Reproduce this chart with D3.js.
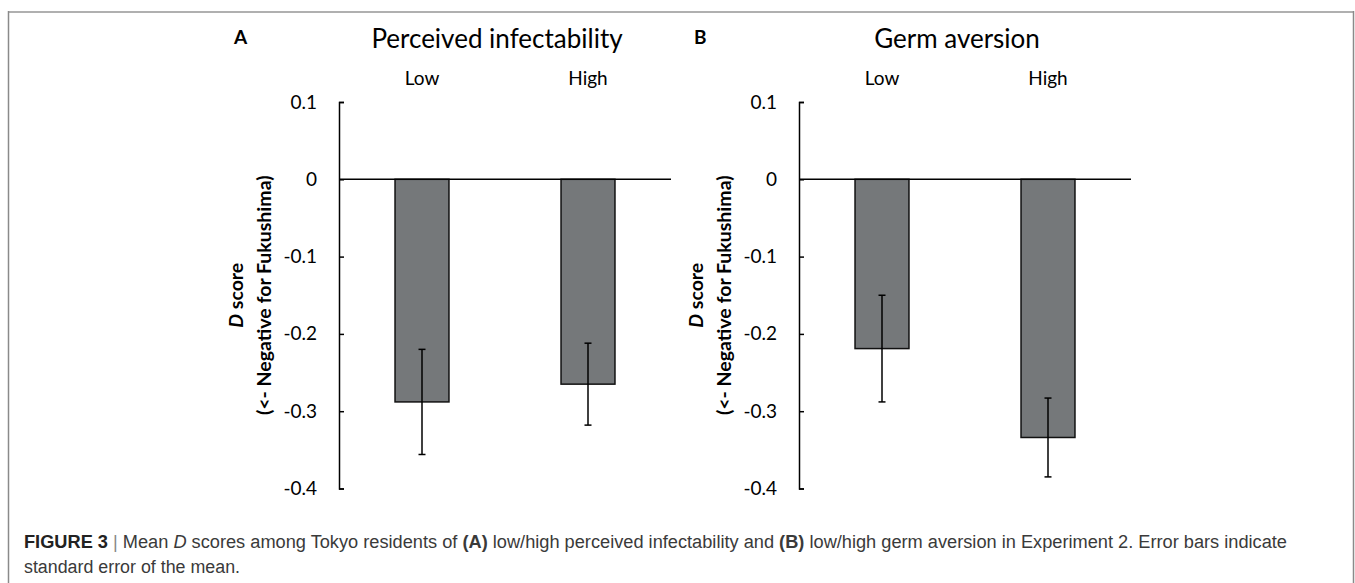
<!DOCTYPE html>
<html>
<head>
<meta charset="utf-8">
<script src="https://cdn.jsdelivr.net/npm/d3@7"></script>
<style>
  body { margin: 0; background: #fff; }
  svg { display: block; }
</style>
</head>
<body>
<svg id="fig" width="1355" height="583"></svg>
<script>
// values
const categories = ["Low", "High"];
const infectMeans = [-0.288, -0.265];
const infectSE = [0.068, 0.053];
const germMeans = [-0.219, -0.334];
const germSE = [0.069, 0.051];
const yTicks = [0.1, 0, -0.1, -0.2, -0.3, -0.4];
const panelTitles = ["Perceived infectability", "Germ aversion"];
const panelLetters = ["A", "B"];

const svg = d3.select("#fig");
const font = "Lato, 'Open Sans', sans-serif";

// frame around the figure
svg.append("line").attr("x1", 8).attr("x2", 1354).attr("y1", 12).attr("y2", 12)
    .attr("stroke", "#b0b0b0").attr("stroke-width", 2);
svg.append("line").attr("x1", 8.5).attr("x2", 8.5).attr("y1", 11).attr("y2", 583)
    .attr("stroke", "#8a8a8a").attr("stroke-width", 1.5);
svg.append("line").attr("x1", 1353.5).attr("x2", 1353.5).attr("y1", 11).attr("y2", 583)
    .attr("stroke", "#8a8a8a").attr("stroke-width", 1.5);

const y = d3.scaleLinear().domain([-0.4, 0.1]).range([488.5, 102]);

function drawPanel(ox, title, letter, means, se) {
    const g = svg.append("g");
    const x = d3.scaleBand().domain(categories).range([ox, ox + 332])
        .paddingInner(0.675).paddingOuter(0.3375);
    const cx = d => x(d) + x.bandwidth() / 2;

    // bars
    g.selectAll("rect.bar").data(categories).join("rect")
        .attr("class", "bar")
        .attr("x", d => x(d))
        .attr("y", y(0))
        .attr("width", x.bandwidth())
        .attr("height", (d, i) => y(means[i]) - y(0))
        .attr("fill", "#75787a")
        .attr("stroke", "#111")
        .attr("stroke-width", 1.5);

    // error bars
    const eb = g.selectAll("g.err").data(categories).join("g")
        .attr("class", "err")
        .attr("stroke", "#000").attr("stroke-width", 1.5);
    eb.append("line")
        .attr("x1", cx).attr("x2", cx)
        .attr("y1", (d, i) => y(means[i] + se[i])).attr("y2", (d, i) => y(means[i] - se[i]));
    eb.append("line")
        .attr("x1", d => cx(d) - 3.5).attr("x2", d => cx(d) + 3.5)
        .attr("y1", (d, i) => y(means[i] + se[i])).attr("y2", (d, i) => y(means[i] + se[i]));
    eb.append("line")
        .attr("x1", d => cx(d) - 3.5).attr("x2", d => cx(d) + 3.5)
        .attr("y1", (d, i) => y(means[i] - se[i])).attr("y2", (d, i) => y(means[i] - se[i]));

    // zero line
    g.append("line")
        .attr("x1", ox).attr("x2", ox + 332)
        .attr("y1", y(0)).attr("y2", y(0))
        .attr("stroke", "#000").attr("stroke-width", 1.5);

    // y axis, ticks pointing inwards
    const axis = g.append("g")
        .attr("transform", `translate(${ox},0)`)
        .call(d3.axisLeft(y).tickValues(yTicks)
            .tickFormat(d => d === 0 ? "0" : String(d))
            .tickSizeInner(-5).tickSizeOuter(-5).tickPadding(22));
    axis.select(".domain").attr("stroke", "#000").attr("stroke-width", 1.5);
    axis.selectAll(".tick line").attr("stroke", "#000").attr("stroke-width", 1.5);
    axis.selectAll(".tick text")
        .attr("font-family", font)
        .attr("font-size", 19).attr("fill", "#000");

    // category labels on top
    g.selectAll("text.cat").data(categories).join("text")
        .attr("class", "cat")
        .attr("x", cx)
        .attr("y", 85)
        .attr("text-anchor", "middle")
        .attr("font-family", font)
        .attr("font-size", 19)
        .text(d => d);

    // panel title and letter
    g.append("text")
        .attr("x", ox + 158).attr("y", 48)
        .attr("text-anchor", "middle")
        .attr("font-family", font)
        .attr("font-size", 26)
        .text(title);
    g.append("text")
        .attr("x", ox - 105).attr("y", 44)
        .attr("font-family", font)
        .attr("font-weight", "bold")
        .attr("font-size", 19)
        .text(letter);

    // y axis title
    const yt = g.append("text")
        .attr("transform", `translate(${ox - 96},${(y(0.1) + y(-0.4)) / 2}) rotate(-90)`)
        .attr("text-anchor", "middle")
        .attr("font-family", font)
        .attr("font-weight", "bold")
        .attr("font-size", 19.5);
    const l1 = yt.append("tspan").attr("x", 0).attr("dy", 0);
    l1.append("tspan").attr("font-style", "italic").text("D");
    l1.append("tspan").text(" score");
    yt.append("tspan").attr("x", 0).attr("dy", 28).text("(<- Negative for Fukushima)");
}

drawPanel(339, panelTitles[0], panelLetters[0], infectMeans, infectSE);
drawPanel(799, panelTitles[1], panelLetters[1], germMeans, germSE);

// caption
const cap = svg.append("g")
    .attr("font-family", "'Liberation Sans Narrow', 'Arial Narrow', 'Liberation Sans', Arial, sans-serif")
    .attr("font-size", 18).attr("fill", "#3a3a3a");
const c1 = cap.append("text").attr("x", 24).attr("y", 548)
    .attr("textLength", 1263).attr("lengthAdjust", "spacingAndGlyphs");
c1.append("tspan").attr("font-weight", "bold").attr("fill", "#222").text("FIGURE 3");
c1.append("tspan").attr("fill", "#888").text(" | ");
c1.append("tspan").text("Mean ");
c1.append("tspan").attr("font-style", "italic").text("D");
c1.append("tspan").text(" scores among Tokyo residents of ");
c1.append("tspan").attr("font-weight", "bold").text("(A)");
c1.append("tspan").text(" low/high perceived infectability and ");
c1.append("tspan").attr("font-weight", "bold").text("(B)");
c1.append("tspan").text(" low/high germ aversion in Experiment 2. Error bars indicate");
cap.append("text").attr("x", 24).attr("y", 573)
    .attr("textLength", 216).attr("lengthAdjust", "spacingAndGlyphs")
    .text("standard error of the mean.");
</script>
</body>
</html>
